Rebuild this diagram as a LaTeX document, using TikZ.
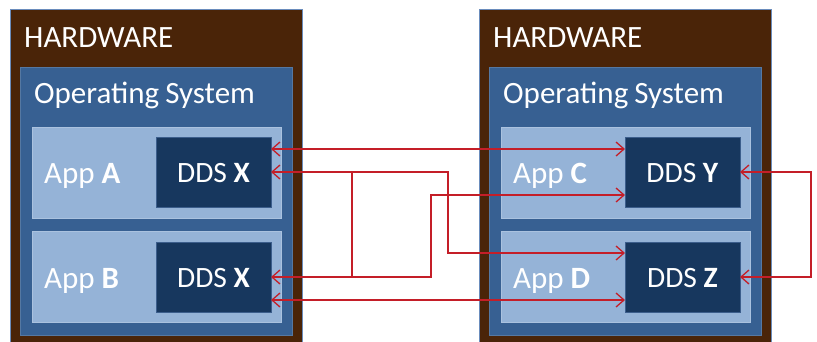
\documentclass[tikz,border=0pt]{standalone}
\usepackage{fontspec}
\setmainfont{Carlito}
\usetikzlibrary{arrows.meta}
\definecolor{hwbrown}{HTML}{4A2408}
\definecolor{hwedge}{HTML}{6A8CBC}
\definecolor{osblue}{HTML}{376092}
\definecolor{applight}{HTML}{95B3D7}
\definecolor{ddsdark}{HTML}{17375E}
\definecolor{ddsedge}{HTML}{3C5E8C}
\definecolor{linkred}{RGB}{196,30,40}
\tikzset{
  box/.style={anchor=north west, inner sep=0pt, outer sep=0pt},
  hwbox/.style={box, fill=hwbrown, draw=hwedge, line width=1pt, minimum width=292pt, minimum height=340pt},
  osbox/.style={box, fill=osblue, draw=osblue!85!white, line width=0.6pt, minimum width=272pt, minimum height=268pt},
  appbox/.style={box, fill=applight, draw=applight!80!white, line width=0.6pt, minimum width=249pt, minimum height=91pt},
  ddsbox/.style={box, fill=ddsdark, draw=ddsedge, line width=1pt, minimum width=115pt, minimum height=70pt},
  lbl/.style={anchor=base west, inner sep=0pt, text=white, font=\fontsize{31}{32}\selectfont},
  ddslbl/.style={anchor=base, inner sep=0pt, text=white, font=\fontsize{29.5}{30}\selectfont},
  tip/.tip={Straight Barb[length=8pt,width=14pt,line width=1.3pt]},
  link/.style={draw=linkred, line width=1.1pt, tip-tip},
  plain/.style={draw=linkred, line width=1.1pt}
}
\begin{document}
\begin{tikzpicture}[x=1pt,y=-1pt]
\useasboundingbox (0,0) rectangle (817,341);
\begin{scope}
\clip (0,0) rectangle (817,341);
% left stack
\node[hwbox] (hwL) at (10,9) {};
\node[osbox] (osL) at (20,67) {};
\node[appbox] (appA) at (32,127) {};
\node[appbox] (appB) at (32,231) {};
\node[ddsbox] (ddsXA) at (156,137) {};
\node[ddsbox] (ddsXB) at (156,242) {};
% right stack
\node[hwbox] (hwR) at (479,9) {};
\node[osbox] (osR) at (489,67) {};
\node[appbox] (appC) at (501,127) {};
\node[appbox] (appD) at (501,231) {};
\node[ddsbox] (ddsY) at (625,137) {};
\node[ddsbox] (ddsZ) at (625,242) {};
\end{scope}
% labels
\node[lbl] (hwLt) at (24,47) {HARDWARE};
\node[lbl] (osLt) at (34,103) {Operating\hspace{-1pt} System};
\node[lbl] (appAt) at (44,183) {App \textbf{A}};
\node[lbl] (appBt) at (44,288) {App \textbf{B}};
\node[lbl] (hwRt) at (493,47) {HARDWARE};
\node[lbl] (osRt) at (503,103) {Operating\hspace{-1pt} System};
\node[lbl] (appCt) at (513,183) {App \textbf{C}};
\node[lbl] (appDt) at (513,288) {App \textbf{D}};
\node[ddslbl] (ddsXAt) at ([yshift=-10pt]ddsXA.center) {DDS \textbf{X}};
\node[ddslbl] (ddsXBt) at ([yshift=-10pt]ddsXB.center) {DDS \textbf{X}};
\node[ddslbl] (ddsYt) at ([yshift=-10pt]ddsY.center) {DDS \textbf{Y}};
\node[ddslbl] (ddsZt) at ([yshift=-10pt]ddsZ.center) {DDS \textbf{Z}};
% connector columns
\coordinate (k1) at (448,0);
\coordinate (k2) at (431,0);
\coordinate (k3) at (352,0);
\coordinate (k4) at (811,0);
% connectors
\draw[link] ([yshift=23pt]ddsXA.east) -- ([yshift=23pt]ddsY.west);
\draw[link] (ddsXA.east) -- (ddsXA.east -| k1) |- ([yshift=24pt]ddsZ.west);
\draw[link] (ddsXB.east) -- (ddsXB.east -| k2) |- ([yshift=-23pt]ddsY.west);
\draw[plain] (ddsXA.east -| k3) -- (ddsXB.east -| k3);
\draw[link] ([yshift=-23pt]ddsXB.east) -- ([yshift=-23pt]ddsZ.west);
\draw[link] (ddsY.east) -- (ddsY.east -| k4) |- (ddsZ.east);
\end{tikzpicture}
\end{document}
